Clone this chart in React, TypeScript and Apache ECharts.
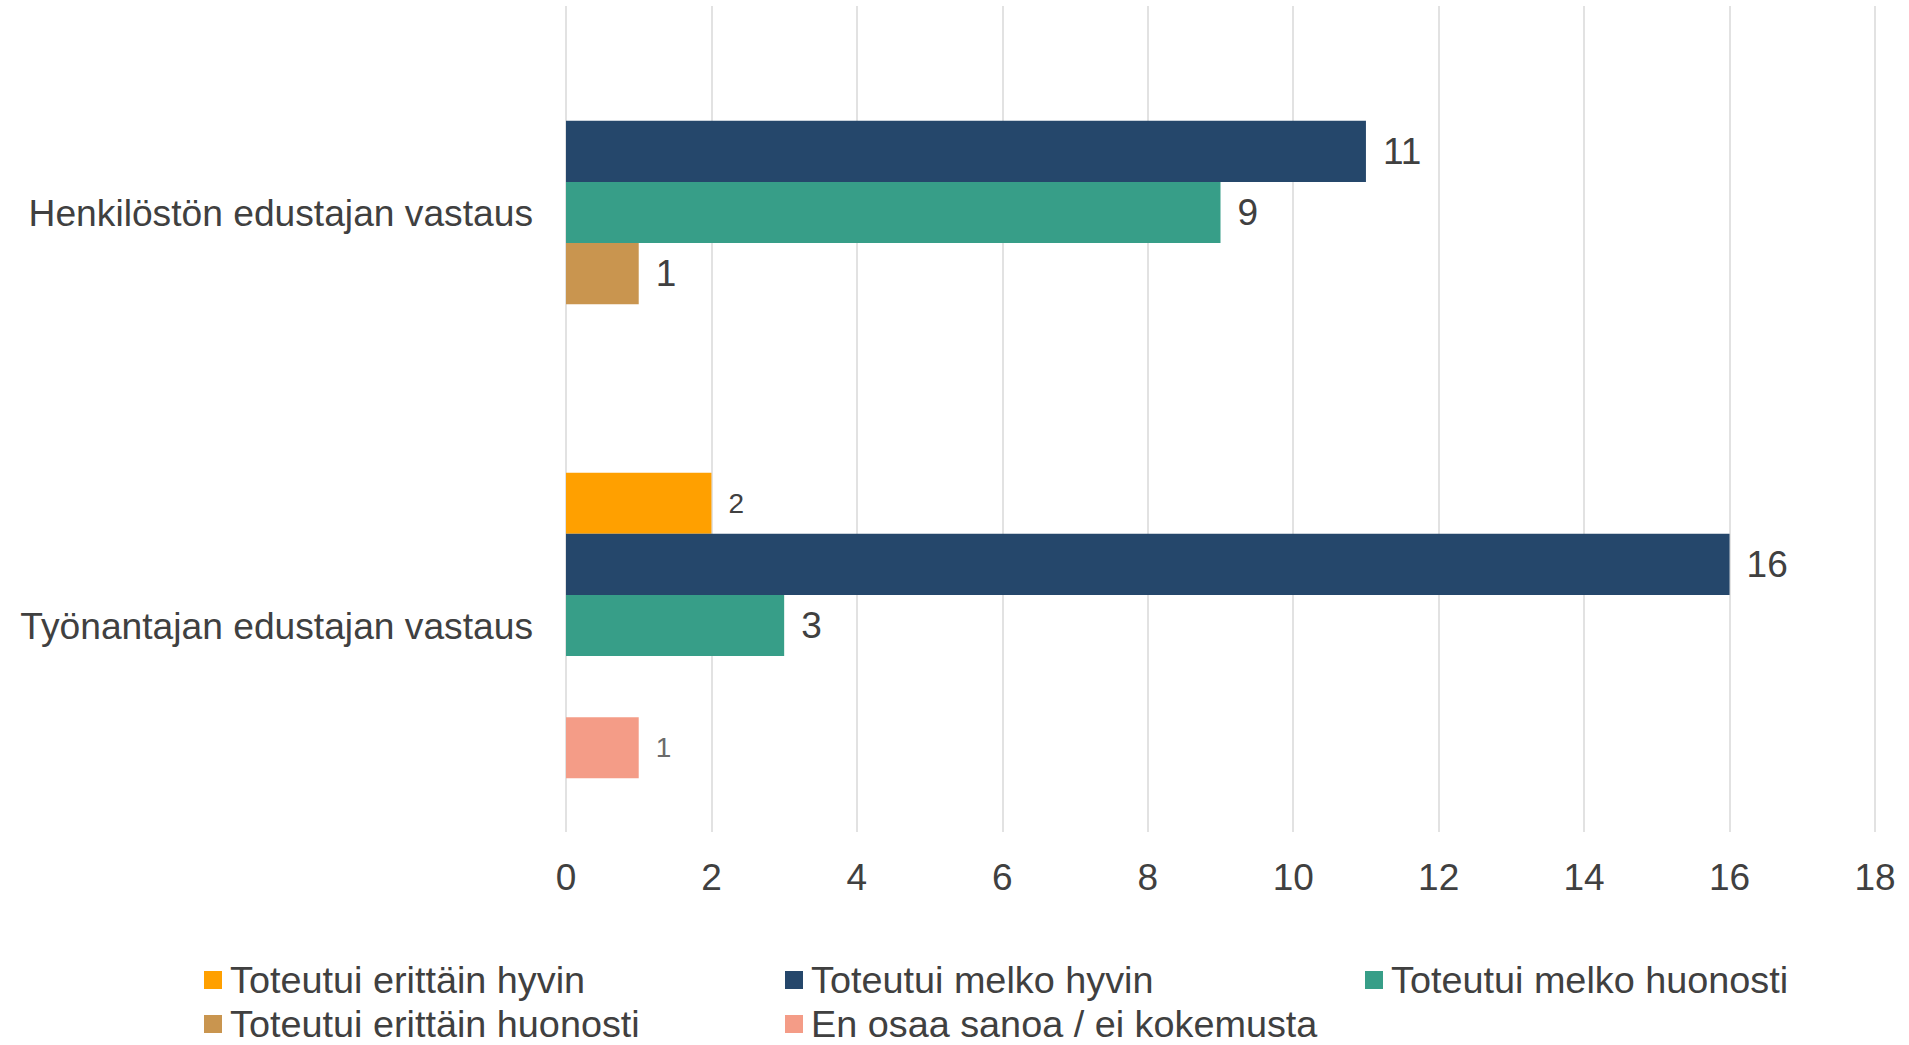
import React, { useEffect, useRef } from "react";
import * as echarts from "echarts";

const categories = ["Henkilöstön edustajan vastaus", "Työnantajan edustajan vastaus"];
const seriesNames = [
  "Toteutui erittäin hyvin",
  "Toteutui melko hyvin",
  "Toteutui melko huonosti",
  "Toteutui erittäin huonosti",
  "En osaa sanoa / ei kokemusta",
];
const erittainHyvin: (number | null)[] = [null, 2];
const melkoHyvin: (number | null)[] = [11, 16];
const melkoHuonosti: (number | null)[] = [9, 3];
const erittainHuonosti: (number | null)[] = [1, null];
const enOsaa: (number | null)[] = [null, 1];
const xTicks = [0, 2, 4, 6, 8, 10, 12, 14, 16, 18];

const colors = ["#FFA000", "#25476B", "#379E88", "#C9954F", "#F49C87"];
const FONT = "'Liberation Sans', Arial, sans-serif";

// label style per [series][category]: "big" | "small" | "smallGray"
const labelKinds: string[][] = [
  ["big", "small"],
  ["big", "big"],
  ["big", "big"],
  ["big", "big"],
  ["big", "smallGray"],
];

export default function App() {
  const ref = useRef<HTMLDivElement>(null);
  useEffect(() => {
    document.body.style.margin = "0";
    if (!ref.current) return;
    const chart = echarts.init(ref.current, null, { renderer: "svg" });
    const allValues = [erittainHyvin, melkoHyvin, melkoHuonosti, erittainHuonosti, enOsaa];
    const series = allValues.map((vals, si) => ({
      name: seriesNames[si],
      type: "bar",
      barGap: "0%",
      barCategoryGap: "26%",
      itemStyle: { color: colors[si] },
      data: vals.map((v, ci) => {
        if (v === null) return "-";
        const kind = labelKinds[si][ci];
        return {
          value: v,
          label: {
            show: true,
            position: "right",
            distance: 17,
            fontFamily: FONT,
            fontSize: kind === "big" ? 37 : 28,
            color: kind === "smallGray" ? "#6b6b6b" : "#404040",
          },
        };
      }),
    }));
    const legendPos = [
      { left: 204, top: 961 },
      { left: 785, top: 961 },
      { left: 1365, top: 961 },
      { left: 204, top: 1005 },
      { left: 785, top: 1005 },
    ];
    const legends = seriesNames.map((n, i) => ({
      data: [n],
      left: legendPos[i].left,
      top: legendPos[i].top,
      itemWidth: 18,
      itemHeight: 18,
      icon: "rect",
      padding: 0,
      selectedMode: false,
      textStyle: {
        fontFamily: FONT,
        fontSize: 37.8,
        lineHeight: 30,
        color: "#404040",
        padding: [0, 0, 0, 3],
      },
    }));
    chart.setOption({
      animation: false,
      color: colors,
      grid: { left: 566, right: 34, top: 6, bottom: 213, containLabel: false },
      legend: legends,
      xAxis: {
        type: "value",
        min: xTicks[0],
        max: xTicks[xTicks.length - 1],
        interval: 2,
        axisLine: { show: false },
        axisTick: { show: false },
        splitLine: { show: true, lineStyle: { color: "#D9D9D9", width: 1.5 } },
        axisLabel: { fontFamily: FONT, fontSize: 37, color: "#404040", margin: 27 },
      },
      yAxis: {
        type: "category",
        data: categories,
        inverse: true,
        axisLine: { show: false },
        axisTick: { show: false },
        axisLabel: { fontFamily: FONT, fontSize: 37.2, color: "#404040", margin: 33 },
      },
      series,
    });
    return () => chart.dispose();
  }, []);
  return <div ref={ref} style={{ width: 1909, height: 1045 }} />;
}
